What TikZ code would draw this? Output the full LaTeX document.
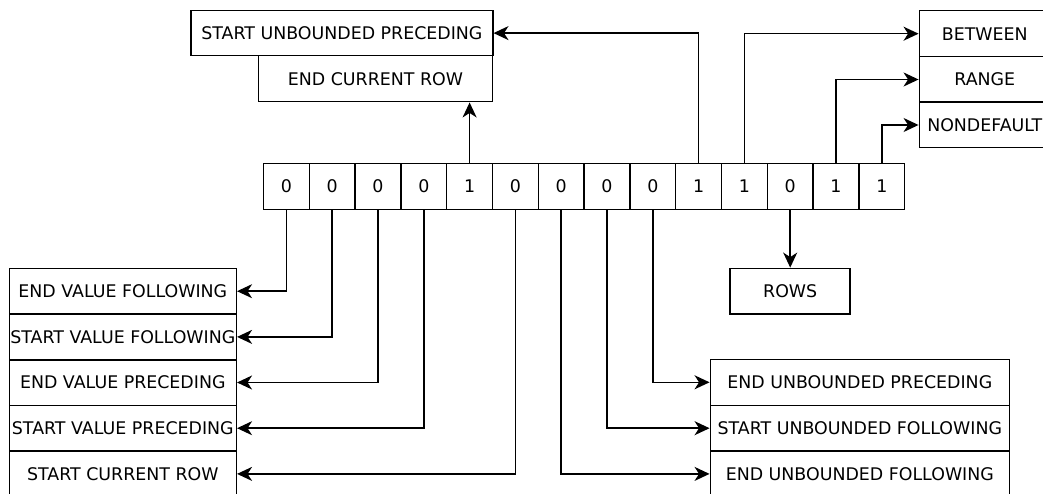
\documentclass[tikz,border=0pt]{standalone}
\usepackage{fontspec}
\setmainfont{DejaVu Sans}
\usetikzlibrary{arrows.meta}
\begin{document}
\begin{tikzpicture}[x=1pt,y=-1pt,
  every node/.style={font=\fontsize{17.4}{20}\selectfont},
  box/.style={draw,line width=1.5pt,rectangle,inner sep=0pt,anchor=center},
  cell/.style={box,minimum width=45.8pt,minimum height=46pt},
  arr/.style={line width=1.5pt,-{Stealth[length=15pt,width=14pt,inset=4.5pt]}}]
\useasboundingbox (0,0) rectangle (1043,494);
% bit cells
\foreach \b [count=\i from 0] in {0,0,0,0,1,0,0,0,0,1,1,0,1,1}{
  \node[cell] (c\i) at ({263.5+45.8*(\i+0.5)},186.5) {\b};
}
% left boxes
\node[box,minimum width=227pt,minimum height=45.7pt] (evf) at (122.8,291.2) {END VALUE FOLLOWING};
\node[box,minimum width=227pt,minimum height=45.7pt] (svf) at (122.8,336.9) {START VALUE FOLLOWING};
\node[box,minimum width=227pt,minimum height=45.7pt] (evp) at (122.8,382.5) {END VALUE PRECEDING};
\node[box,minimum width=227pt,minimum height=45.7pt] (svp) at (122.8,428.2) {START VALUE PRECEDING};
\node[box,minimum width=227pt,minimum height=45.7pt] (scr) at (122.8,473.9) {START CURRENT ROW};
% bottom right boxes
\node[box,minimum width=299pt,minimum height=46pt] (eup) at (859.8,382.3) {END UNBOUNDED PRECEDING};
\node[box,minimum width=299pt,minimum height=45.7pt] (suf) at (859.8,428.2) {START UNBOUNDED FOLLOWING};
\node[box,minimum width=299pt,minimum height=45.7pt] (euf) at (859.8,473.9) {END UNBOUNDED FOLLOWING};
% rows
\node[box,minimum width=120pt,minimum height=45.7pt] (rows) at (790.2,291.2) {ROWS};
% top left
\node[box,minimum width=301.7pt,minimum height=45.2pt] (sup) at (341.9,33.1) {START UNBOUNDED PRECEDING};
\node[box,minimum width=234.4pt,minimum height=46pt] (ecr) at (375.5,78.7) {END CURRENT ROW};
% top right
\node[box,minimum width=131pt,minimum height=46pt] (btw) at (984.8,33.7) {BETWEEN};
\node[box,minimum width=131pt,minimum height=45.5pt] (rng) at (984.8,79.5) {RANGE};
\node[box,minimum width=131pt,minimum height=45.5pt] (ndf) at (984.8,125) {NONDEFAULT};
% connectors
\draw[arr] (c0.south) |- (evf.east);
\draw[arr] (c1.south) |- (svf.east);
\draw[arr] (c2.south) |- (evp.east);
\draw[arr] (c3.south) |- (svp.east);
\draw[arr] (c5.south) |- (scr.east);
\draw[arr] (c6.south) |- (euf.west);
\draw[arr] (c7.south) |- (suf.west);
\draw[arr] (c8.south) |- (eup.west);
\draw[arr] (c11.south) -- (c11.south |- rows.north);
\draw[arr] (c4.north) -- (c4.north |- ecr.south);
\draw[arr] (c9.north) |- (sup.east);
\draw[arr] (c10.north) |- (btw.west);
\draw[arr] (c12.north) |- (rng.west);
\draw[arr] (c13.north) |- (ndf.west);
\end{tikzpicture}
\end{document}
